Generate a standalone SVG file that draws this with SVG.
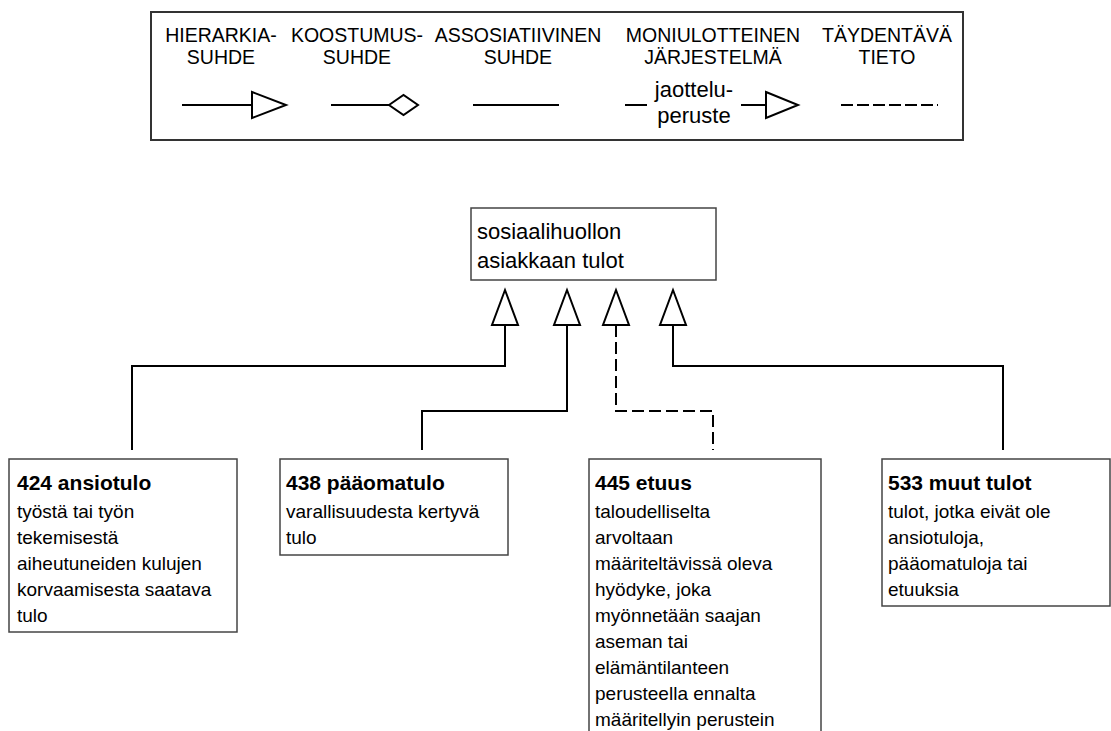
<svg xmlns="http://www.w3.org/2000/svg" width="1111" height="731" viewBox="0 0 1111 731">
<style>
text{font-family:"Liberation Sans",Arial,sans-serif;fill:#000}
.leg{font-size:19.5px;text-anchor:middle}
.node{fill:#fff;stroke:#444;stroke-width:1.5}
.title{font-size:21px;font-weight:bold}
.body{font-size:19px}
.top{font-size:22px}
.ln{fill:none;stroke:#000;stroke-width:2}
.dash{stroke-dasharray:12 5}
.tri{fill:#fff;stroke:#000;stroke-width:2}
</style>
<rect width="1111" height="731" fill="#fff"/>
<g id="legend">
<rect x="151" y="12" width="812" height="128" fill="#fff" stroke="#333" stroke-width="2"/>
<text class="leg" x="221" y="42">HIERARKIA-</text>
<text class="leg" x="221" y="64">SUHDE</text>
<text class="leg" x="357" y="42">KOOSTUMUS-</text>
<text class="leg" x="357" y="64">SUHDE</text>
<text class="leg" x="518" y="42">ASSOSIATIIVINEN</text>
<text class="leg" x="518" y="64">SUHDE</text>
<text class="leg" x="713" y="42">MONIULOTTEINEN</text>
<text class="leg" x="713" y="64">JÄRJESTELMÄ</text>
<text class="leg" x="887" y="42">TÄYDENTÄVÄ</text>
<text class="leg" x="887" y="64">TIETO</text>
<line class="ln" x1="182" y1="105" x2="252" y2="105"/>
<polygon class="tri" points="252,92 286,105 252,118"/>
<line class="ln" x1="331" y1="105" x2="389" y2="105"/>
<polygon class="tri" points="389,105 403.5,95 418,105 403.5,115"/>
<line class="ln" x1="473" y1="105" x2="559" y2="105"/>
<line class="ln" x1="625" y1="105" x2="647" y2="105"/>
<text x="694" y="97" style="font-size:22px;text-anchor:middle">jaottelu-</text>
<text x="694" y="123" style="font-size:22px;text-anchor:middle">peruste</text>
<line class="ln" x1="741" y1="105" x2="766" y2="105"/>
<polygon class="tri" points="766,92 798,105 766,118"/>
<line class="ln" x1="841" y1="105" x2="938" y2="105" style="stroke-dasharray:12 4"/>
</g>
<g id="connectors">
<path class="ln" d="M505,325 V366 H132 V450"/>
<polygon class="tri" points="505,290 518,325 492,325"/>
<path class="ln" d="M567,325 V411 H422 V450"/>
<polygon class="tri" points="567,290 580,325 554,325"/>
<path class="ln dash" d="M616,325 V411 H713 V450"/>
<polygon class="tri" points="616,290 629,325 603,325"/>
<path class="ln" d="M673,325 V366 H1003 V450"/>
<polygon class="tri" points="673,290 686,325 660,325"/>
</g>
<g id="n-top">
<rect class="node" x="471" y="208" width="245" height="72"/>
<text class="top" x="477" y="239">sosiaalihuollon</text>
<text class="top" x="477" y="268">asiakkaan tulot</text>
</g>
<g id="n-424">
<rect class="node" x="9" y="459" width="228" height="173"/>
<text class="title" x="17" y="490">424 ansiotulo</text>
<text class="body" x="17" y="518">työstä tai työn</text>
<text class="body" x="17" y="544">tekemisestä</text>
<text class="body" x="17" y="570">aiheutuneiden kulujen</text>
<text class="body" x="17" y="596">korvaamisesta saatava</text>
<text class="body" x="17" y="622">tulo</text>
</g>
<g id="n-438">
<rect class="node" x="280" y="459" width="228" height="96"/>
<text class="title" x="286" y="490">438 pääomatulo</text>
<text class="body" x="286" y="518">varallisuudesta kertyvä</text>
<text class="body" x="286" y="544">tulo</text>
</g>
<g id="n-445">
<rect class="node" x="589" y="459" width="232" height="290"/>
<text class="title" x="595" y="490">445 etuus</text>
<text class="body" x="595" y="518">taloudelliselta</text>
<text class="body" x="595" y="544">arvoltaan</text>
<text class="body" x="595" y="570">määriteltävissä oleva</text>
<text class="body" x="595" y="596">hyödyke, joka</text>
<text class="body" x="595" y="622">myönnetään saajan</text>
<text class="body" x="595" y="648">aseman tai</text>
<text class="body" x="595" y="674">elämäntilanteen</text>
<text class="body" x="595" y="700">perusteella ennalta</text>
<text class="body" x="595" y="726">määritellyin perustein</text>
</g>
<g id="n-533">
<rect class="node" x="882" y="459" width="228" height="147"/>
<text class="title" x="888" y="490">533 muut tulot</text>
<text class="body" x="888" y="518">tulot, jotka eivät ole</text>
<text class="body" x="888" y="544">ansiotuloja,</text>
<text class="body" x="888" y="570">pääomatuloja tai</text>
<text class="body" x="888" y="596">etuuksia</text>
</g>
</svg>
